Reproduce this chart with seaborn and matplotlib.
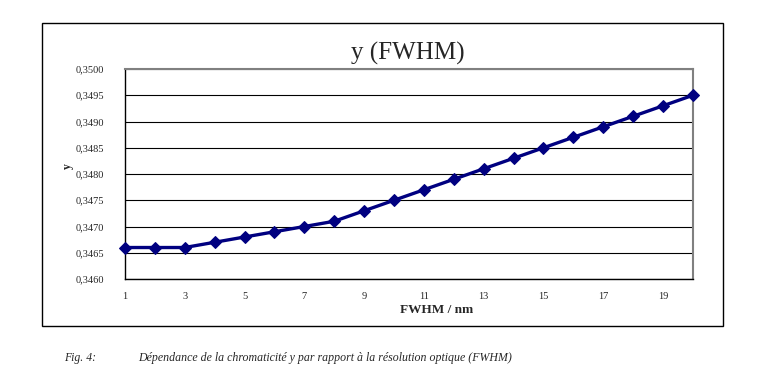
import seaborn as sns
import matplotlib.pyplot as plt
import pandas as pd
from matplotlib.patches import Rectangle
from matplotlib.ticker import FuncFormatter

# data
fwhm = list(range(1, 21))
y_vals = [0.3466, 0.3466, 0.3466, 0.3467, 0.3468, 0.3469, 0.3470, 0.3471, 0.3473, 0.3475,
          0.3477, 0.3479, 0.3481, 0.3483, 0.3485, 0.3487, 0.3489, 0.3491, 0.3493, 0.3495]
x_ticks = [1, 3, 5, 7, 9, 11, 13, 15, 17, 19]
y_ticks = [0.3460, 0.3465, 0.3470, 0.3475, 0.3480, 0.3485, 0.3490, 0.3495, 0.3500]

df = pd.DataFrame({'FWHM': fwhm, 'y': y_vals})

sns.set_style('white')
plt.rcParams['font.family'] = ['Liberation Serif', 'DejaVu Serif']

fig = plt.figure(figsize=(7.62, 3.83), dpi=100)
ax = fig.add_axes([0.164, 0.2715, 0.9094 - 0.164, 0.8198 - 0.2715])

sns.lineplot(data=df, x='FWHM', y='y', ax=ax, color='#000080', linewidth=2.4,
             marker='D', markersize=6.5, markeredgecolor='#000080', clip_on=False, zorder=5)

ax.set_xlim(1, 20)
ax.set_ylim(0.3460, 0.3500)
ax.set_xticks(x_ticks)
ax.set_yticks(y_ticks)
ax.yaxis.set_major_formatter(FuncFormatter(lambda v, p: f'{v:.4f}'.replace('.', ',')))
ax.grid(axis='y', color='black', linewidth=0.8)
ax.set_axisbelow(True)

for s in ['top', 'right']:
    ax.spines[s].set_color('#808080')
    ax.spines[s].set_linewidth(1.5)
for s in ['left', 'bottom']:
    ax.spines[s].set_color('black')
    ax.spines[s].set_linewidth(1.0)

ax.tick_params(axis='both', direction='out', length=3, width=1, color='black', labelsize=7.5)
ax.tick_params(axis='y', pad=12)
ax.tick_params(axis='x', pad=6.5)
ax.set_xlabel('')
ax.set_ylabel('')

fig.text(0.0892, 1 - 166 / 383, 'y', rotation=90, fontsize=8.5, fontweight='bold',
         ha='center', va='center')
fig.text(437 / 762, 1 - 310 / 383, 'FWHM / nm', fontsize=9.5, fontweight='bold',
         ha='center', va='center')
fig.text(408 / 762, 1 - 60 / 383, 'y (FWHM)', fontsize=18, ha='center', va='baseline')

# outer chart frame
fig.patches.append(Rectangle((42 / 762, 1 - 326 / 383), (723 - 42) / 762, (326 - 23) / 383,
                             transform=fig.transFigure, fill=False, edgecolor='black',
                             linewidth=1.0))

fig.text(64 / 762, 1 - 361 / 383, 'Fig. 4:', fontsize=8.5, style='italic', va='baseline')
fig.text(138 / 762, 1 - 361 / 383,
         'Dépendance de la chromaticité y par rapport à la résolution optique (FWHM)',
         fontsize=8.6, style='italic', va='baseline')

fig.savefig('out.png', dpi=100)
